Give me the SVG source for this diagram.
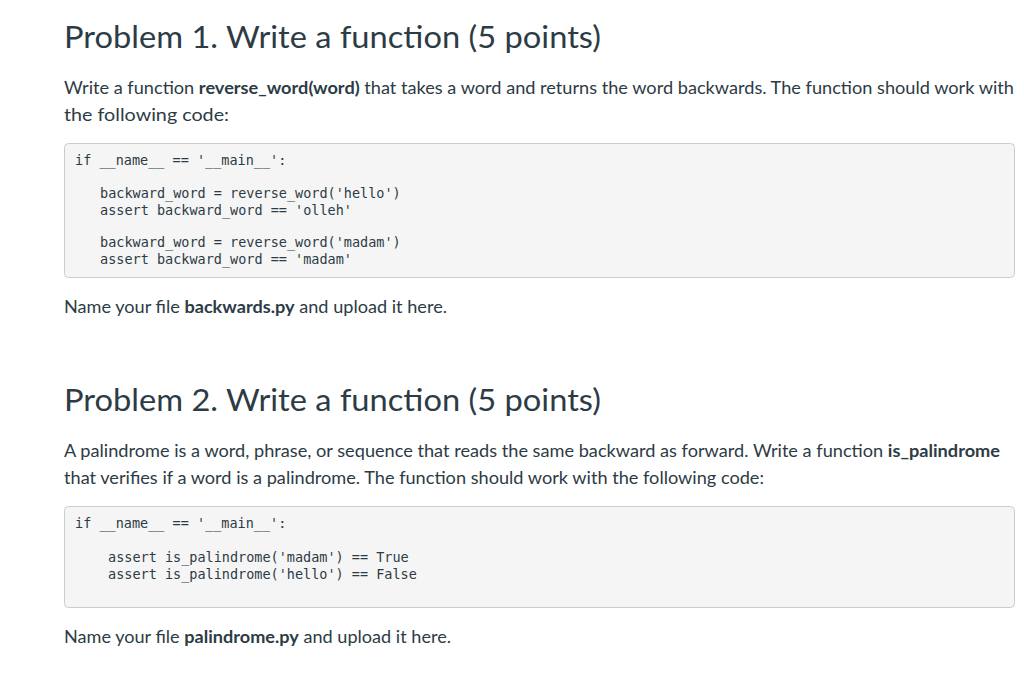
<svg xmlns="http://www.w3.org/2000/svg" width="1024" height="682" viewBox="0 0 1024 682">
<style>
.h{font-family:Lato,"Liberation Sans",sans-serif;font-size:31px;fill:#2d3b45}
.p{font-family:Lato,"Liberation Sans",sans-serif;font-size:17px;fill:#2d3b45}
.b{font-weight:bold}
.c{font-family:"DejaVu Sans Mono","Liberation Mono",monospace;font-size:13.5px;fill:#2d3b45}
.box{fill:#f5f5f5;stroke:#c7cdd1;stroke-width:1}
</style>
<rect width="1024" height="682" fill="#fff"/>
<text class="h" x="64" y="48" textLength="537" lengthAdjust="spacingAndGlyphs">Problem 1. Write a function (5 points)</text>
<text class="p" x="64" y="94" textLength="950" lengthAdjust="spacingAndGlyphs">Write a function <tspan class="b">reverse_word(word)</tspan> that takes a word and returns the word backwards. The function should work with</text>
<text class="p" x="64" y="121" textLength="165" lengthAdjust="spacingAndGlyphs">the following code:</text>
<rect class="box" x="64.5" y="143.5" width="950" height="134" rx="4"/>
<text class="c" x="75" y="165">if __name__ == '__main__':</text>
<text class="c" x="100" y="198">backward_word = reverse_word('hello')</text>
<text class="c" x="100" y="215">assert backward_word == 'olleh'</text>
<text class="c" x="100" y="247">backward_word = reverse_word('madam')</text>
<text class="c" x="100" y="264">assert backward_word == 'madam'</text>
<text class="p" x="64" y="313" textLength="383" lengthAdjust="spacingAndGlyphs">Name your file <tspan class="b">backwards.py</tspan> and upload it here.</text>
<text class="h" x="64" y="411" textLength="537" lengthAdjust="spacingAndGlyphs">Problem 2. Write a function (5 points)</text>
<text class="p" x="64" y="457" textLength="936" lengthAdjust="spacingAndGlyphs">A palindrome is a word, phrase, or sequence that reads the same backward as forward. Write a function <tspan class="b">is_palindrome</tspan></text>
<text class="p" x="64" y="484" textLength="700" lengthAdjust="spacingAndGlyphs">that verifies if a word is a palindrome. The function should work with the following code:</text>
<rect class="box" x="64.5" y="506.5" width="950" height="101" rx="4"/>
<text class="c" x="75" y="528">if __name__ == '__main__':</text>
<text class="c" x="108" y="562">assert is_palindrome('madam') == True</text>
<text class="c" x="108" y="579">assert is_palindrome('hello') == False</text>
<text class="p" x="64" y="643" textLength="387" lengthAdjust="spacingAndGlyphs">Name your file <tspan class="b">palindrome.py</tspan> and upload it here.</text>
</svg>
